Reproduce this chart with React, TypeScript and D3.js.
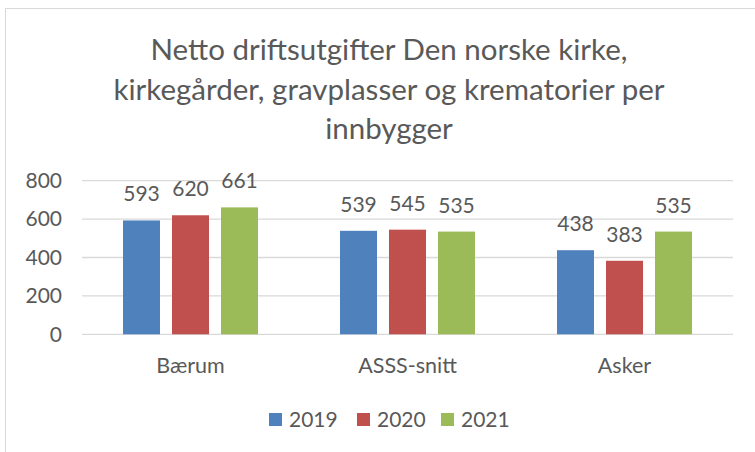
import React from "react";
import * as d3 from "d3";

const categories = ["Bærum", "ASSS-snitt", "Asker"];
const years = ["2019", "2020", "2021"];
const values2019 = [593, 539, 438];
const values2020 = [620, 545, 383];
const values2021 = [661, 535, 535];
const yTicks = [0, 200, 400, 600, 800];
const titleLines = [
  "Netto driftsutgifter Den norske kirke,",
  "kirkegårder, gravplasser og krematorier per",
  "innbygger",
];
const colors = ["#4F81BD", "#C0504D", "#9BBB59"];

const W = 755;
const H = 452;
const FONT = "Lato, 'Open Sans', sans-serif";
const TEXT = "#595959";

export default function App() {
  const series = [values2019, values2020, values2021];

  const x = d3.scaleBand<string>().domain(categories).range([82, 733]);
  const xs = d3
    .scaleBand<string>()
    .domain(years)
    .range([0, x.bandwidth()])
    .paddingInner(0.245)
    .paddingOuter(0.837);
  const y = d3.scaleLinear().domain([0, 800]).range([334.3, 180.7]);

  // legend layout
  const legendX = [269, 357, 441];

  return (
    <svg
      width={W}
      height={H}
      style={{ position: "absolute", left: 0, top: 0, background: "#fff" }}
      fontFamily={FONT}
    >
      {/* chart border */}
      <rect x={5.5} y={8.5} width={W + 10} height={H + 10} fill="#fff" stroke="#D9D9D9" />

      {/* title */}
      <g fill={TEXT} fontSize={29.5} textAnchor="middle">
        {titleLines.map((t, i) => (
          <text key={i} x={389} y={60 + i * 39.5}>
            {t}
          </text>
        ))}
      </g>

      {/* grid + y axis */}
      <g>
        {yTicks.map((t) => (
          <g key={t}>
            <line x1={82} x2={733} y1={y(t)} y2={y(t)} stroke="#D9D9D9" strokeWidth={1.3} />
            <text
              x={62}
              y={y(t)}
              dy="0.35em"
              textAnchor="end"
              fontSize={21}
              fill={TEXT}
            >
              {t}
            </text>
          </g>
        ))}
      </g>

      {/* bars */}
      {categories.map((c, ci) => (
        <g key={c} transform={`translate(${x(c)},0)`}>
          {years.map((yr, si) => {
            const v = series[si][ci];
            const bx = xs(yr)!;
            return (
              <g key={yr}>
                <rect
                  x={bx}
                  y={y(v)}
                  width={xs.bandwidth()}
                  height={y(0) - y(v)}
                  fill={colors[si]}
                />
                <text
                  x={bx + xs.bandwidth() / 2}
                  y={y(v) - 19}
                  textAnchor="middle"
                  fontSize={21}
                  fill={TEXT}
                >
                  {v}
                </text>
              </g>
            );
          })}
          <text
            x={x.bandwidth() / 2}
            y={373}
            textAnchor="middle"
            fontSize={21.5}
            fill={TEXT}
          >
            {c}
          </text>
        </g>
      ))}

      {/* legend */}
      {years.map((yr, i) => (
        <g key={yr}>
          <rect x={legendX[i]} y={413} width={13} height={13} fill={colors[i]} />
          <text x={legendX[i] + 20} y={427} fontSize={21} fill={TEXT}>
            {yr}
          </text>
        </g>
      ))}
    </svg>
  );
}
